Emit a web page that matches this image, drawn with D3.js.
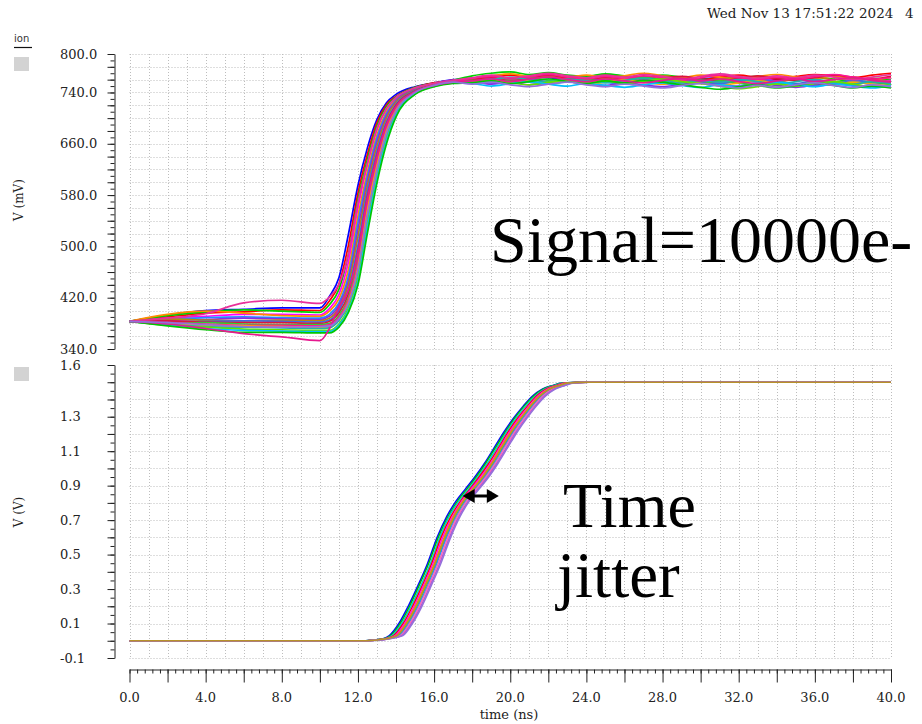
<!DOCTYPE html>
<html><head><meta charset="utf-8">
<script src="https://cdn.jsdelivr.net/npm/d3@7"></script>
<style>body{margin:0;background:#fff}svg{display:block}</style>
</head><body>
<svg id="c" width="922" height="724"></svg>
<script>
// ---------------- DATA ----------------
// top panel: sample times (ns)
const topTimes = [0,2,4,6,8,10, 10.5,11,11.5,12,12.5,13,13.5,14,15,16,17,
  18,19,20,21,22,23,24,25,26,27,28,29,30,31,32,33,34,35,36,37,38,39,40];
const topColors = ["#0000ff","#ff0000","#00d000","#ff00ff","#ff8c00","#1e90ff","#8a2be2","#b8860b","#4169e1","#dc143c",
  "#32cd32","#ff1493","#ffa500","#20b2aa","#66e000","#00bfff","#00c800","#e8309a","#e6198f","#9370db"];
// values in mV
const topSeries = [
 [383,393,400,402,404,404, 422,451,519,595,654,698,724,737,749,755,760, 762,764,761,765,763,760,762,759,761,764,760,758,761,763,759,757,760,762,758,756,759,761,758],
 [383,390,396,398,401,400, 415,441,502,583,644,693,721,734,748,755,759, 761,765,767,763,766,762,764,768,765,762,766,763,760,764,767,763,761,765,768,766,763,767,770],
 [383,392,398,401,399,397, 409,433,488,573,636,688,718,733,748,754,759, 766,770,772,768,771,767,765,769,766,763,767,764,761,759,762,765,763,760,764,761,758,762,760],
 [383,388,391,394,394,393, 403,425,476,560,628,682,715,732,747,754,759, 759,762,758,761,757,760,763,759,756,760,757,761,758,755,759,762,758,760,757,754,758,756,759],
 [383,394,399,396,392,391, 399,418,464,547,617,674,710,730,746,754,758, 762,766,769,765,768,764,767,763,766,770,766,763,767,764,761,765,768,764,762,766,763,760,764],
 [383,386,389,390,389,388, 394,412,454,537,610,669,707,728,745,753,758, 758,755,759,756,753,757,760,756,753,757,754,751,755,758,754,752,756,753,750,754,757,753,755],
 [383,385,386,388,387,386, 391,408,446,526,603,663,704,727,745,753,758, 757,753,756,752,755,758,754,751,755,752,749,753,756,752,750,754,751,748,752,755,751,749,752],
 [383,387,385,384,385,384, 388,404,440,515,595,656,700,725,744,752,757, 760,763,759,762,765,761,758,762,759,763,766,762,759,761,764,760,757,761,764,760,762,759,757],
 [383,382,383,384,383,382, 385,400,433,502,587,649,695,722,743,752,757, 758,761,757,760,756,759,762,758,755,759,756,760,757,754,758,761,757,754,758,755,759,756,753],
 [383,384,382,381,381,380, 383,396,426,492,578,642,691,720,742,752,757, 760,764,760,763,767,763,760,764,761,758,762,765,761,758,762,766,762,759,763,767,764,761,765],
 [383,380,381,379,378,378, 380,392,420,482,570,635,687,718,741,751,756, 759,756,760,763,759,756,760,757,761,764,760,757,754,758,755,751,747,750,754,757,753,756,752],
 [383,381,379,377,377,376, 378,389,417,475,564,630,684,715,741,751,756, 762,765,761,764,768,764,761,765,762,766,763,759,763,767,763,760,764,761,765,768,764,761,763],
 [383,379,377,376,375,374, 375,386,413,467,557,626,680,713,740,751,756, 756,759,755,758,754,757,753,756,760,756,753,757,754,751,755,758,754,751,755,752,756,753,750],
 [383,378,375,374,373,372, 373,384,409,460,547,617,674,710,739,751,756, 757,760,764,760,757,761,758,755,759,762,758,755,759,756,760,757,753,757,760,756,753,757,754],
 [383,377,374,371,370,369, 369,379,404,451,537,610,669,707,738,750,755, 756,759,755,752,756,759,755,758,754,757,761,757,754,750,746,749,753,750,754,757,753,749,752],
 [383,378,372,369,368,367, 367,377,400,445,530,605,665,705,738,750,755, 754,750,754,757,753,750,754,751,748,752,755,751,748,752,749,753,756,752,749,753,750,747,751],
 [383,376,370,366,366,365, 365,374,397,440,521,599,660,702,737,749,754, 755,758,754,757,761,757,754,758,755,759,756,752,748,745,749,752,748,751,755,751,747,750,747],
 [383,388,395,412,416,411, 421,441,488,568,630,684,715,732,747,754,759, 763,767,763,766,770,766,763,767,764,768,765,761,765,769,765,762,766,763,767,764,760,764,768],
 [383,379,372,364,359,353, 372,405,432,490,575,640,690,718,741,751,756, 758,761,757,761,764,760,757,761,758,755,759,762,758,761,757,754,758,761,757,760,763,759,756],
 [383,381,378,375,374,375, 376,387,411,464,550,620,677,711,740,751,756, 753,756,752,749,753,756,752,749,753,750,747,751,754,750,747,751,748,752,755,751,748,752,749]
];

// bottom panel: voltage levels (V) and, for each run, the time (ns) it reaches each level
const bottomLevels = [0,0.005,0.012,0.03,0.1,0.2,0.32,0.45,0.6,0.72,0.81,0.88,0.95,1.03,1.12,1.21,1.29,1.36,1.42,1.46,1.48,1.495,1.5];
const bottomColors = ["#0000ff","#00c000","#00ced1","#ff0000","#ff00ff","#ff8c00","#32cd32","#1e90ff","#ff69b4","#ba55d3","#9370db","#b8912a"];
const bottomCrossTimes = [
 [12,12.82,13.32,13.65,14.15,14.64,15.15,15.66,16.16,16.66,17.15,17.64,18.14,18.65,19.16,19.66,20.16,20.67,21.17,21.68,22.2,22.72,23.8],
 [12,12.86,13.36,13.72,14.22,14.71,15.21,15.72,16.22,16.73,17.23,17.72,18.21,18.71,19.22,19.73,20.22,20.72,21.23,21.73,22.24,22.75,23.85],
 [12,12.9,13.4,13.8,14.3,14.79,15.3,15.81,16.3,16.79,17.3,17.81,18.3,18.8,19.31,19.8,20.3,20.8,21.31,21.81,22.3,22.8,23.9],
 [12,12.94,13.44,13.88,14.38,14.87,15.38,15.88,16.37,16.88,17.39,17.88,18.37,18.88,19.39,19.88,20.38,20.89,21.38,21.88,22.38,22.88,23.94],
 [12,12.97,13.47,13.95,14.45,14.95,15.44,15.95,16.45,16.96,17.45,17.94,18.45,18.96,19.45,19.95,20.45,20.96,21.45,21.95,22.45,22.95,23.97],
 [12,13.01,13.51,14.02,14.52,15.02,15.51,16.02,16.53,17.02,17.51,18.02,18.53,19.02,19.51,20.02,20.53,21.02,21.52,22.02,22.52,23.02,24.01],
 [12,13.05,13.55,14.1,14.6,15.1,15.59,16.1,16.61,17.1,17.59,18.1,18.61,19.1,19.6,20.11,20.6,21.1,21.61,22.1,22.6,23.1,24.05],
 [12,13.08,13.58,14.16,14.66,15.16,15.66,16.15,16.66,17.17,17.66,18.15,18.66,19.17,19.66,20.16,20.67,21.16,21.66,22.16,22.66,23.16,24.08],
 [12,13.11,13.61,14.22,14.72,15.22,15.71,16.22,16.73,17.22,17.71,18.22,18.73,19.22,19.71,20.22,20.73,21.22,21.72,22.22,22.72,23.22,24.11],
 [12,13.15,13.65,14.3,14.8,15.3,15.79,16.3,16.81,17.3,17.79,18.3,18.81,19.3,19.8,20.3,20.81,21.3,21.8,22.3,22.8,23.3,24.15],
 [12,13.18,13.68,14.36,14.86,15.36,15.85,16.36,16.87,17.36,17.85,18.36,18.87,19.36,19.86,20.36,20.87,21.36,21.86,22.36,22.86,23.36,24.18],
 [12,13.03,13.53,14.06,14.56,15.06,15.55,16.06,16.57,17.06,17.55,18.06,18.57,19.06,19.55,20.06,20.57,21.06,21.56,22.06,22.56,23.06,24.03]
];
const bottomStart = 0, bottomEnd = 40;

// tick labels
const topTickLabels = [800,740,660,580,500,420,340];
const bottomTickLabels = [1.6,1.3,1.1,0.9,0.7,0.5,0.3,0.1,-0.1];
const xTickLabels = [0,4,8,12,16,20,24,28,32,36,40];

// ---------------- DRAW ----------------
const svg = d3.select("#c");
const SERIF = "'DejaVu Serif', serif";
const BIG = "'Liberation Serif', 'Times New Roman', serif";

const x = d3.scaleLinear().domain([0,40]).range([129.5,891]);
const yT = d3.scaleLinear().domain([340,800]).range([349,54]);
const yB = d3.scaleLinear().domain([-0.1,1.6]).range([658,365]);

const gridColor = "#bdbdbd";
function grids(y, hVals, d0, d1) {
  const g = svg.append("g").attr("stroke", gridColor).attr("stroke-width", 1).attr("stroke-dasharray", "1,2");
  g.selectAll("line.h").data(hVals).join("line").attr("class","h")
    .attr("x1", x(0)).attr("x2", x(40)).attr("y1", d => Math.round(y(d))+0.5).attr("y2", d => Math.round(y(d))+0.5);
  g.selectAll("line.v").data(d3.range(0,41)).join("line").attr("class","v")
    .attr("x1", d => Math.round(x(d))+0.5).attr("x2", d => Math.round(x(d))+0.5).attr("y1", y(d1)).attr("y2", y(d0));
}
grids(yT, d3.range(340, 801, 20), 340, 800);
grids(yB, d3.range(-1, 17).map(i => i/10), -0.1, 1.6);

// y axes
function yAxis(y, minorVals, majorVals) {
  const g = svg.append("g").attr("transform", "translate(114.5,0)");
  g.call(d3.axisLeft(y).tickValues(minorVals).tickSize(4).tickSizeOuter(0).tickFormat(""));
  const g2 = svg.append("g").attr("transform", "translate(114.5,0)");
  g2.call(d3.axisLeft(y).tickValues(majorVals).tickSize(7).tickSizeOuter(0).tickFormat(""));
  g2.select(".domain").remove();
  svg.selectAll("g .domain, g .tick line").attr("stroke", "#222");
}
yAxis(yT, d3.range(340, 801, 10), d3.range(340, 801, 20));
yAxis(yB, d3.range(-2, 33).map(i => i*0.05), d3.range(-1, 17).map(i => i/10));

svg.append("g").selectAll("text").data(topTickLabels).join("text")
  .attr("x", 60).attr("y", d => yT(d)).attr("dy", "0.36em")
  .attr("font-family", SERIF).attr("font-size", 13).attr("fill", "#222")
  .text(d => d.toFixed(1));
svg.append("g").selectAll("text").data(bottomTickLabels).join("text")
  .attr("x", 60).attr("y", d => yB(d)).attr("dy", "0.36em")
  .attr("font-family", SERIF).attr("font-size", 13).attr("fill", "#222")
  .text(d => d.toFixed(1));

// x axis
const xa = svg.append("g").attr("transform", "translate(0,669.5)");
xa.call(d3.axisBottom(x).tickValues(d3.range(0, 101).map(i => i*0.4)).tickSize(4).tickSizeOuter(0).tickFormat(""));
const xa2 = svg.append("g").attr("transform", "translate(0,669.5)");
xa2.call(d3.axisBottom(x).tickValues(d3.range(0, 41, 2)).tickSize(13).tickSizeOuter(0).tickFormat(""));
xa2.select(".domain").remove();
svg.selectAll(".domain, .tick line").attr("stroke", "#222");
svg.append("g").selectAll("text").data(xTickLabels).join("text")
  .attr("x", d => x(d)).attr("y", 702).attr("text-anchor", "middle")
  .attr("font-family", SERIF).attr("font-size", 13).attr("fill", "#222")
  .text(d => d.toFixed(1));

// curves
const lineT = d3.line().x((d,i) => x(topTimes[i])).y(d => yT(d)).curve(d3.curveMonotoneX);
svg.append("g").attr("fill", "none").attr("stroke-width", 1.7)
  .selectAll("path").data(topSeries).join("path")
  .attr("stroke", (d,i) => topColors[i]).attr("d", d => lineT(d));

const lineB = d3.line().x(d => x(d[0])).y(d => yB(d[1])).curve(d3.curveMonotoneX);
const bottomPts = bottomCrossTimes.map(ts =>
  [[bottomStart, bottomLevels[0]]].concat(ts.map((t,i) => [t, bottomLevels[i]]), [[bottomEnd, bottomLevels[bottomLevels.length-1]]]));
svg.append("g").attr("fill", "none").attr("stroke-width", 1.5)
  .selectAll("path").data(bottomPts).join("path")
  .attr("stroke", (d,i) => bottomColors[i]).attr("d", d => lineB(d));

// jitter arrow
const ay = yB(0.84), ax0 = x(17.5), ax1 = x(19.4);
const ag = svg.append("g").attr("fill", "#000");
ag.append("line").attr("x1", ax0+6).attr("x2", ax1-6).attr("y1", ay).attr("y2", ay).attr("stroke", "#000").attr("stroke-width", 3);
ag.append("path").attr("d", `M${ax0},${ay} L${ax0+12},${ay-7} L${ax0+12},${ay+7} Z`);
ag.append("path").attr("d", `M${ax1},${ay} L${ax1-12},${ay-7} L${ax1-12},${ay+7} Z`);

// labels
svg.append("text").attr("transform", "translate(23,200) rotate(-90)").attr("text-anchor", "middle")
  .attr("font-family", SERIF).attr("font-size", 12).attr("fill", "#222").text("V (mV)");
svg.append("text").attr("transform", "translate(23,512) rotate(-90)").attr("text-anchor", "middle")
  .attr("font-family", SERIF).attr("font-size", 12).attr("fill", "#222").text("V (V)");
svg.append("text").attr("x", 509).attr("y", 719).attr("text-anchor", "middle")
  .attr("font-family", SERIF).attr("font-size", 13).attr("fill", "#222").text("time (ns)");

svg.append("text").attr("x", 707).attr("y", 18).attr("font-family", SERIF).attr("font-size", 13.5).attr("fill", "#222")
  .text("Wed Nov 13 17:51:22 2024");
svg.append("text").attr("x", 905).attr("y", 18).attr("font-family", SERIF).attr("font-size", 13.5).attr("fill", "#222").text("4");

svg.append("text").attr("x", 14).attr("y", 42).attr("font-family", "'DejaVu Sans', sans-serif").attr("font-size", 10).attr("fill", "#333").text("ion");
svg.append("line").attr("x1", 14).attr("x2", 32).attr("y1", 47.5).attr("y2", 47.5).attr("stroke", "#111").attr("stroke-width", 1.2);
svg.append("rect").attr("x", 14).attr("y", 57).attr("width", 15).attr("height", 14).attr("fill", "#d3d3d3");
svg.append("rect").attr("x", 14).attr("y", 367).attr("width", 15).attr("height", 14).attr("fill", "#d3d3d3");

svg.append("text").attr("x", 490).attr("y", 262).attr("font-family", BIG).attr("font-size", 66).attr("fill", "#000").text("Signal=10000e-");
svg.append("text").attr("x", 563).attr("y", 527).attr("font-family", BIG).attr("font-size", 64).attr("fill", "#000").text("Time");
svg.append("text").attr("x", 557).attr("y", 597).attr("font-family", BIG).attr("font-size", 65).attr("fill", "#000").text("jitter");
</script>
</body></html>
